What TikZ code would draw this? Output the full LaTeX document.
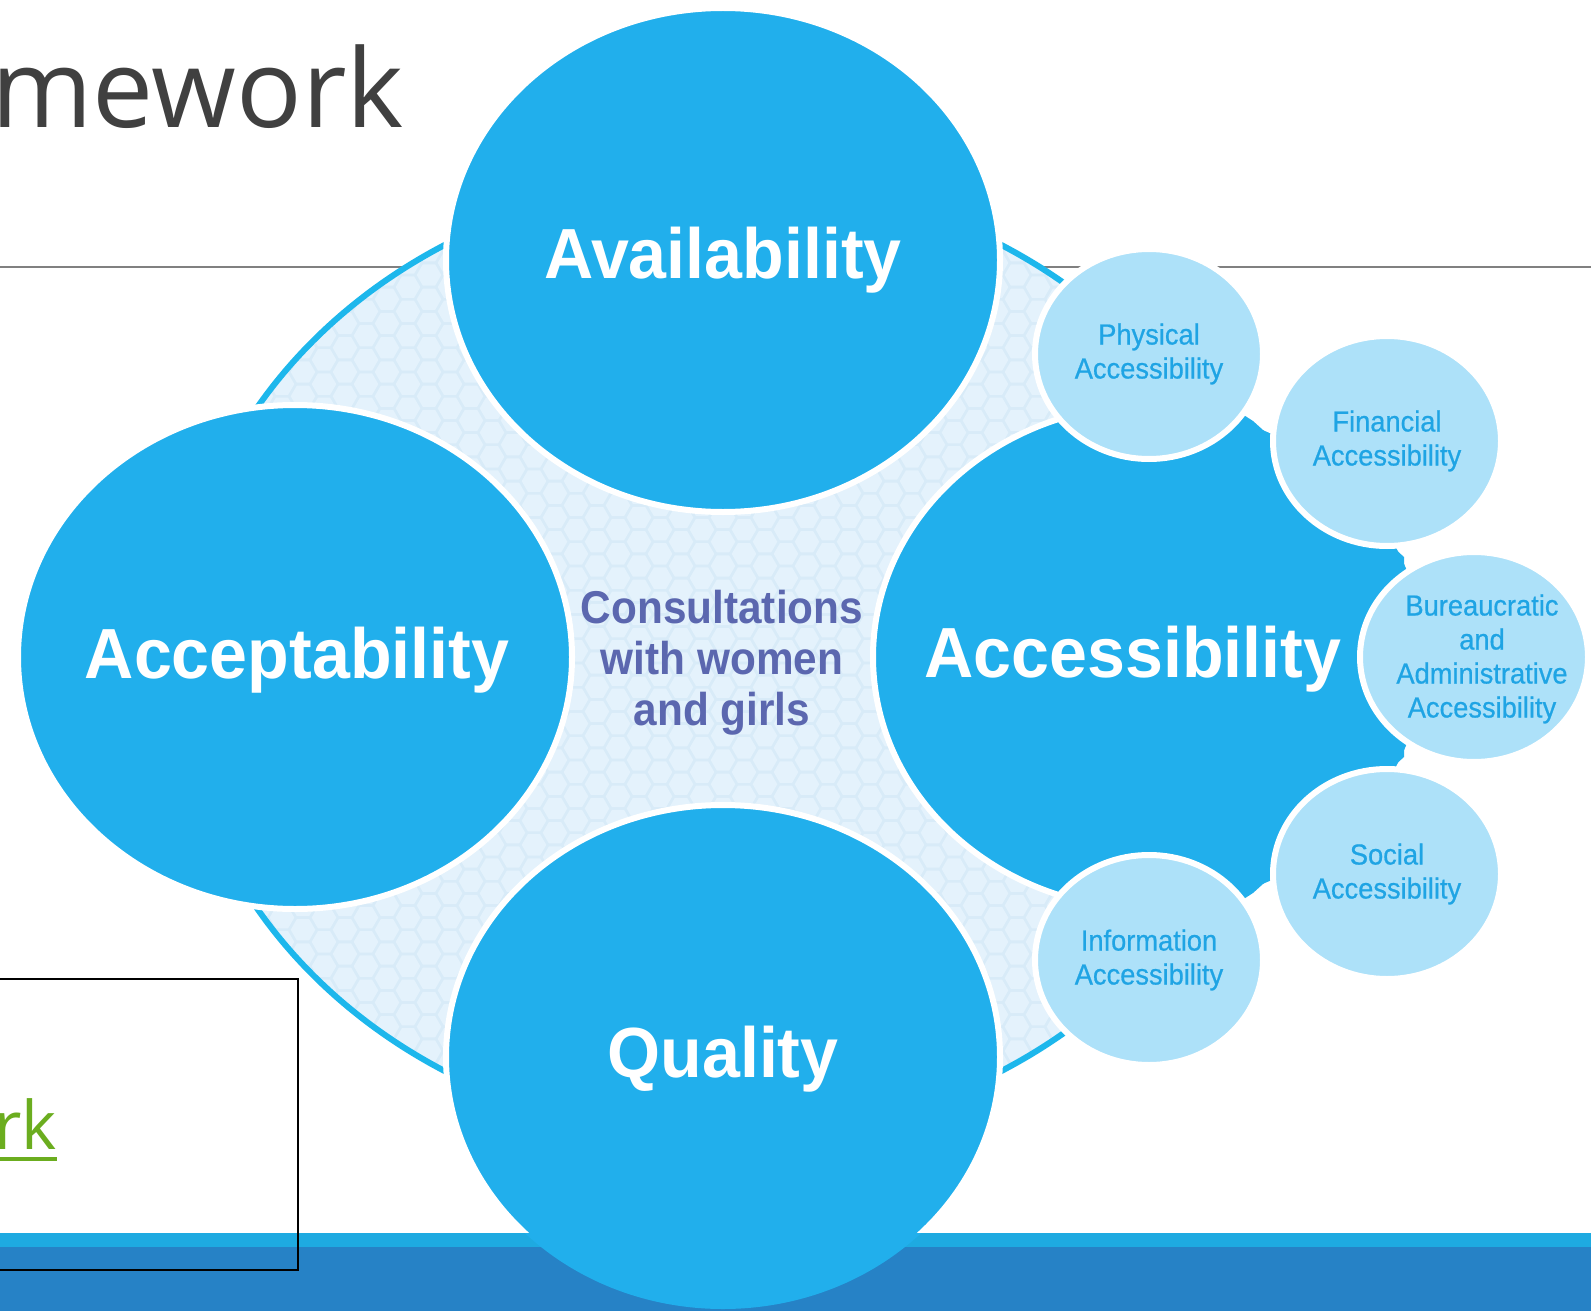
\documentclass[tikz,border=0pt]{standalone}
\usepackage{fontspec}
\setmainfont{Liberation Sans}
\newfontfamily\titlefont{Open Sans}
\newfontfamily\labelfont{Liberation Sans}[FakeStretch=0.96]
\newfontfamily\centerfont{Liberation Sans}[FakeStretch=0.92]
\newfontfamily\smallfont{Liberation Sans}[FakeStretch=0.94,FakeBold=0.6]
\usetikzlibrary{shapes.geometric}

\definecolor{mainblue}{HTML}{21AFEC}
\definecolor{paleblue}{HTML}{ADE1F9}
\definecolor{smallblue}{HTML}{1FA4E4}
\definecolor{consultblue}{HTML}{5B67AF}
\definecolor{hexback}{HTML}{D8EBF8}
\definecolor{hexface}{HTML}{E4F2FC}
\definecolor{rimblue}{HTML}{1DB7EC}
\definecolor{barlight}{HTML}{1EAAE1}
\definecolor{bardark}{HTML}{2682C6}
\definecolor{titlegray}{HTML}{404040}
\definecolor{rulegray}{HTML}{808080}
\definecolor{linkgreen}{HTML}{6BAD1F}

\tikzset{
  bigcircle/.style={ellipse, fill=mainblue, draw=white, line width=6pt,
    minimum width=554pt, minimum height=504pt, inner sep=0pt},
  smallcircle/.style={ellipse, fill=paleblue, draw=white, line width=6pt,
    minimum width=228pt, minimum height=210pt, inner sep=0pt},
  biglabel/.style={text=white, inner sep=0pt, anchor=base,
    font=\labelfont\bfseries\fontsize{71}{80}\selectfont},
  smalllabel/.style={text=smallblue, align=center, inner sep=0pt,
    font=\smallfont\fontsize{29}{34}\selectfont},
  centerlabel/.style={text=consultblue, align=center, inner sep=0pt,
    font=\centerfont\bfseries\fontsize{46}{51}\selectfont},
  hexcell/.style={fill=hexface},
}

\begin{document}
\begin{tikzpicture}[x=1pt,y=-1pt]
  \useasboundingbox (0,0) rectangle (1591,1311);

  % slide behind the diagram
  \fill[barlight] (0,1233) rectangle (1591,1247);
  \fill[bardark] (0,1247) rectangle (1591,1311);
  \draw[rulegray, line width=1.5pt] (0,267) -- (1591,267);
  \node[anchor=base west, inner sep=0pt, text=titlegray,
    font=\titlefont\fontsize{109}{120}\selectfont] (title) at (-9,128) {mework};

  % hexagon ground
  \coordinate (hub) at (723,658);
  \begin{scope}
    \clip (hub) ellipse [x radius=546, y radius=480];
    \fill[hexback] (hub) ellipse [x radius=546, y radius=480];
    \foreach \i in {0,...,52}{
      \foreach \j in {0,...,40}{
        \pgfmathsetmacro\hx{177+21*\i}
        \pgfmathsetmacro\hy{178+24.25*\j+12.12*mod(\i,2)}
        \fill[hexcell] (\hx,\hy) +(0:12.3) -- +(60:12.3) -- +(120:12.3)
          -- +(180:12.3) -- +(240:12.3) -- +(300:12.3) -- cycle;
      }
    }
  \end{scope}
  \draw[rimblue, line width=6pt] (hub) ellipse [x radius=546, y radius=480];

  % four main circles
  \node[bigcircle] (avail) at (723,260) {};
  \node[bigcircle] (accept) at (295,657) {};
  \node[bigcircle] (quality) at (723,1057) {};
  \node[bigcircle] (access) at (1150,657) {};

  % Accessibility reaches under the small circles
  \coordinate (physc) at (1149,354);
  \coordinate (finc) at (1387,441);
  \coordinate (burc) at (1474,657);
  \coordinate (socc) at (1387,874);
  \coordinate (infc) at (1149,960);
  \fill[mainblue] (physc) -- (1253,421) -- (1404,557) -- (1404,757)
    -- (1253,893) -- (infc) -- cycle;

  \node[biglabel] (availtext) at (723,278) {Availability};
  \node[biglabel] (accepttext) at (297,678) {Acceptability};
  \node[biglabel] (accesstext) at (1133,677) {Accessibility};
  \node[biglabel] (qualitytext) at (723,1077) {Quality};
  \node[centerlabel] (consult) at (722,663) {Consultations\\with women\\and girls};

  % small circles
  \node[smallcircle] (phys) at (physc) {};
  \node[smalllabel] (phystext) at (phys) {Physical\\Accessibility};
  \node[smallcircle] (fin) at (finc) {};
  \node[smalllabel] (fintext) at (fin) {Financial\\Accessibility};
  \node[smallcircle] (bur) at (burc) {};
  \node[smalllabel] (burtext) at (1482,659) {Bureaucratic\\and\\Administrative\\Accessibility};
  \node[smallcircle] (soc) at (socc) {};
  \node[smalllabel] (soctext) at (soc) {Social\\Accessibility};
  \node[smallcircle] (inf) at (infc) {};
  \node[smalllabel] (inftext) at (inf) {Information\\Accessibility};

  % Quality runs over the bar with no white rim
  \begin{scope}
    \clip (0,1233) rectangle (1591,1311);
    \fill[barlight] (0,1233) rectangle (1591,1247);
    \fill[bardark] (0,1247) rectangle (1591,1311);
    \fill[mainblue] (quality.center) ellipse [x radius=277, y radius=252];
  \end{scope}

  % box with the link
  \draw[black, line width=2pt] (-2,979) rectangle (298,1270);
  \node[anchor=base east, inner sep=0pt, text=linkgreen,
    font=\titlefont\fontsize{67}{70}\selectfont] (linkword) at (57,1149) {rk};
  \draw[linkgreen, line width=4pt] ([yshift=-10pt]linkword.base west)
    -- ([yshift=-10pt]linkword.base east);
\end{tikzpicture}
\end{document}
